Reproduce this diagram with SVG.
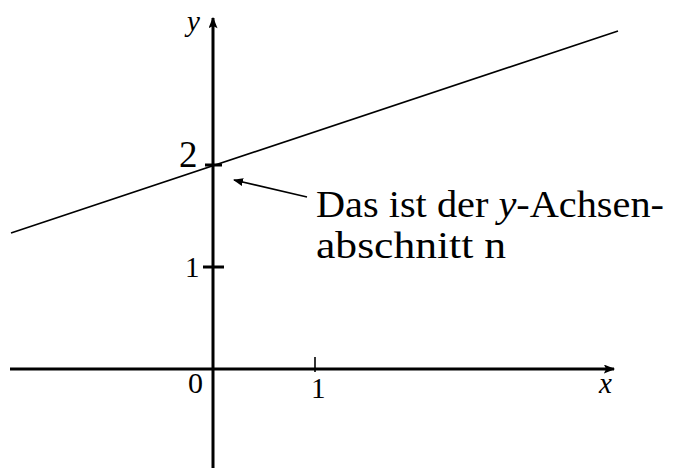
<svg xmlns="http://www.w3.org/2000/svg" width="688" height="468" viewBox="0 0 688 468">
<style>
.ax{stroke:#000;stroke-width:3;fill:none}
.ln{stroke:#000;stroke-width:1.6;fill:none}
.t{font-family:"Liberation Serif","Times New Roman",serif;fill:#000}
.it{font-style:italic}
</style>
<defs>
<marker id="ah" viewBox="0 0 10 8" refX="9" refY="4" markerWidth="10" markerHeight="8" markerUnits="userSpaceOnUse" orient="auto">
<path d="M0,0 L10,4 L0,8 Z" fill="#000"/>
</marker>
<marker id="axh" viewBox="0 0 10 8" refX="9" refY="4" markerWidth="12" markerHeight="9" markerUnits="userSpaceOnUse" orient="auto">
<path d="M0,0 L10,4 L0,8 L2,4 Z" fill="#000"/>
</marker>
</defs>
<g id="connectors">
<line class="ax" x1="10" y1="369" x2="614" y2="369" marker-end="url(#axh)"/>
<line class="ax" x1="213" y1="468" x2="213" y2="18" marker-end="url(#axh)"/>
<line class="ln" x1="11" y1="233" x2="618" y2="31"/>
<line class="ln" x1="307" y1="197" x2="234" y2="180" marker-end="url(#ah)"/>
</g>
<g id="ticks">
<line class="ax" x1="203" y1="267" x2="224" y2="267"/>
<line class="ax" x1="205" y1="165" x2="222" y2="165"/>
<line stroke="#000" stroke-width="1.6" x1="315" y1="357" x2="315" y2="372"/>
</g>
<g id="labels">
<text class="t it" x="187" y="31" font-size="29">y</text>
<text class="t it" x="599" y="393" font-size="29">x</text>
<text class="t" x="188" y="393" font-size="30">0</text>
<text class="t" x="311" y="398" font-size="29">1</text>
<text class="t" x="185" y="277" font-size="29">1</text>
<text class="t" x="179" y="167" font-size="37">2</text>
<text class="t" x="316" y="217" font-size="38" textLength="348" lengthAdjust="spacingAndGlyphs">Das ist der <tspan class="it">y</tspan>-Achsen-</text>
<text class="t" x="316" y="258" font-size="38" textLength="190" lengthAdjust="spacingAndGlyphs">abschnitt n</text>
</g>
</svg>
